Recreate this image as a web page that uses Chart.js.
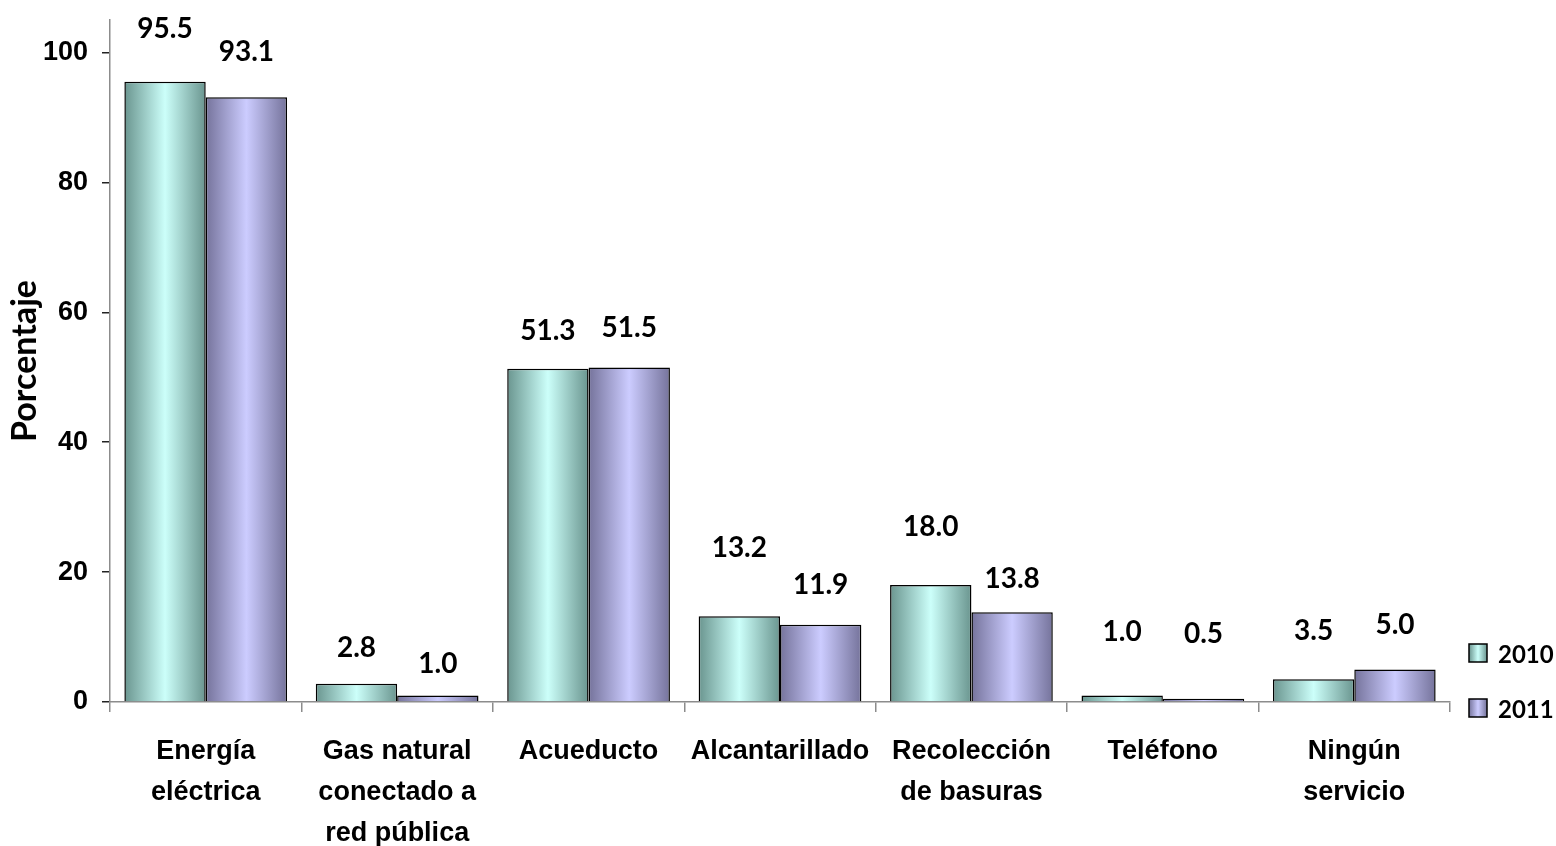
<!DOCTYPE html>
<html><head><meta charset="utf-8">
<script src="https://cdn.jsdelivr.net/npm/chart.js@4.4.1/dist/chart.umd.min.js"></script>
<style>html,body{margin:0;padding:0;background:#fff}#wrap{width:1556px;height:846px}</style>
</head><body><div id="wrap"><canvas id="c" width="1556" height="846"></canvas></div>
<script>
const categories = [["Energía","eléctrica"],["Gas natural","conectado a","red pública"],["Acueducto"],["Alcantarillado"],["Recolección","de basuras"],["Teléfono"],["Ningún","servicio"]];
const seriesNames = ["2010","2011"];
const values2010 = [95.5, 2.8, 51.3, 13.2, 18.0, 1.0, 3.5];
const values2011 = [93.1, 1.0, 51.5, 11.9, 13.8, 0.5, 5.0];
const yTicks = [0, 20, 40, 60, 80, 100];
const labelLift2010 = [53, 36, 38, 68, 58, 64, 48];
const labelLift2011 = [45, 32, 40, 40, 33, 65, 45];

const CAT_PCT = 0.85;
const palettes = [
  {edge:'#6a958f', mid:'#ccfffa'},
  {edge:'#75739b', mid:'#ccccff'}
];
const calFont = '"Lato", "Open Sans", sans-serif';
const arialFont = '"Liberation Sans", Arial, sans-serif';

function gradFor(ctx){
  const chart = ctx.chart;
  const xs = chart.scales.x;
  const p = palettes[ctx.datasetIndex];
  if (!xs || !chart.chartArea || ctx.dataIndex === undefined) return p.mid;
  const cw = xs.width / categories.length;
  const bw = cw * CAT_PCT / 2;
  const center = xs.getPixelForValue(ctx.dataIndex);
  const left = center - bw + ctx.datasetIndex * bw;
  const g = chart.ctx.createLinearGradient(left, 0, left + bw, 0);
  g.addColorStop(0, p.edge);
  g.addColorStop(0.5, p.mid);
  g.addColorStop(1, p.edge);
  return g;
}

const valueLabels = {
  id: 'valueLabels',
  afterDatasetsDraw(chart){
    const c = chart.ctx;
    c.save();
    c.font = 'bold 28px ' + calFont;
    c.fillStyle = '#000';
    c.textAlign = 'center';
    c.textBaseline = 'middle';
    const lifts = [labelLift2010, labelLift2011];
    chart.data.datasets.forEach((ds, di) => {
      const meta = chart.getDatasetMeta(di);
      meta.data.forEach((el, i) => {
        c.fillText(ds.data[i].toFixed(1), el.x, el.y - lifts[di][i]);
      });
    });
    c.restore();
  }
};

const sideLegend = {
  id: 'sideLegend',
  afterDraw(chart){
    const c = chart.ctx;
    c.save();
    const x = chart.chartArea.right + 19;
    const ys = [653, 708];
    chart.data.datasets.forEach((ds, di) => {
      const y = ys[di];
      const p = palettes[di];
      const g = c.createLinearGradient(x, 0, x + 18, 0);
      g.addColorStop(0, p.edge); g.addColorStop(0.5, p.mid); g.addColorStop(1, p.edge);
      c.fillStyle = g;
      c.fillRect(x, y - 9, 18, 18);
      c.lineWidth = 1.5; c.strokeStyle = '#000';
      c.strokeRect(x, y - 9, 18, 18);
      c.fillStyle = '#000';
      c.font = 'bold 24px ' + calFont;
      c.textAlign = 'left'; c.textBaseline = 'middle';
      c.fillText(ds.label, x + 29, y + 2);
    });
    c.restore();
  }
};

new Chart(document.getElementById('c'), {
  type: 'bar',
  data: {
    labels: categories,
    datasets: [
      {label: seriesNames[0], data: values2010, backgroundColor: gradFor, borderColor: '#000', borderWidth: 1.5},
      {label: seriesNames[1], data: values2011, backgroundColor: gradFor, borderColor: '#000', borderWidth: 1.5}
    ]
  },
  options: {
    responsive: false,
    animation: false,
    events: [],
    layout: {padding: {left: 0, right: 106, top: 20, bottom: 0}},
    datasets: {bar: {categoryPercentage: CAT_PCT, barPercentage: 1.0}},
    plugins: {legend: {display: false}, tooltip: {enabled: false}},
    scales: {
      x: {
        grid: {offset: true, drawOnChartArea: false, drawTicks: true, tickLength: 10, color: '#8c8c8c', lineWidth: 1.5},
        border: {color: '#8c8c8c', width: 1.5},
        ticks: {color: '#000', font: {family: arialFont, size: 27, weight: 'bold', lineHeight: 1.52}, padding: 19, maxRotation: 0, autoSkip: false},
        afterFit(s){ s.height = 144; }
      },
      y: {
        min: 0, max: 105,
        afterBuildTicks(s){ s.ticks = yTicks.map(v => ({value: v})); },
        grid: {drawOnChartArea: false, drawTicks: true, tickLength: 8, color: '#8c8c8c', tickColor: '#222', lineWidth: 1.5},
        border: {color: '#8c8c8c', width: 1.5},
        ticks: {color: '#000', font: {family: arialFont, size: 27, weight: 'bold'}, padding: 14},
        title: {display: true, text: 'Porcentaje', color: '#000', font: {family: calFont, size: 34, weight: 'bold'}, padding: {top: 5, bottom: 0}},
        afterFit(s){ s.width = 110; s.paddingTop = 0; s.paddingBottom = 0; }
      }
    }
  },
  plugins: [valueLabels, sideLegend]
});
</script></body></html>
